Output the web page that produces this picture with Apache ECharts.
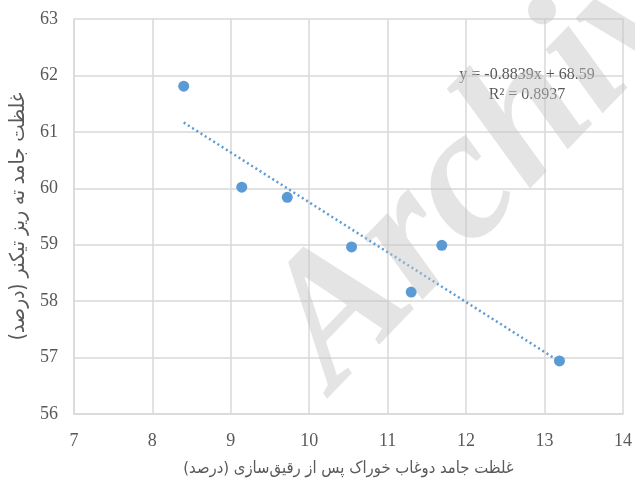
<!DOCTYPE html>
<html>
<head>
<meta charset="utf-8">
<script src="https://cdn.jsdelivr.net/npm/echarts@6/dist/echarts.min.js"></script>
<style>
  html, body { margin: 0; padding: 0; background: #ffffff; }
  #chart { width: 635px; height: 482px; }
</style>
</head>
<body>
<div id="chart"></div>
<script>
// Feed solids concentration after dilution (%) vs. thickener underflow solids (%)
const xValues = [8.40, 9.14, 9.72, 10.54, 11.30, 11.69, 13.19];
const yValues = [61.81, 60.02, 59.84, 58.96, 58.16, 58.99, 56.94];

// Linear trendline as reported on the chart
const trendSlope = -0.8839;
const trendIntercept = 68.59;
const rSquared = 0.8937;

const xAxisTicks = [7, 8, 9, 10, 11, 12, 13, 14];
const yAxisTicks = [56, 57, 58, 59, 60, 61, 62, 63];

const xAxisTitle = 'غلظت جامد دوغاب خوراک پس از رقیق‌سازی (درصد)';
const yAxisTitle = 'غلظت جامد ته ریز تیکنر (درصد)';

const points = xValues.map((x, i) => [x, yValues[i]]);
const xMinData = Math.min(...xValues);
const xMaxData = Math.max(...xValues);
const trendPoints = [xMinData, xMaxData].map(x => [x, trendSlope * x + trendIntercept]);

const labelColor = '#595959';
const gridColor = '#d9d9d9';
const markColor = '#5b9bd5';
const serif = '"Liberation Serif", "DejaVu Serif", serif';
const arabic = '"DejaVu Sans Condensed", "DejaVu Sans", sans-serif';

const chart = echarts.init(document.getElementById('chart'), null, { renderer: 'canvas' });

chart.setOption({
  animation: false,
  backgroundColor: '#ffffff',
  grid: { left: 70, right: 11, top: 19, bottom: 63, containLabel: false },
  xAxis: {
    type: 'value',
    min: xAxisTicks[0],
    max: xAxisTicks[xAxisTicks.length - 1],
    interval: 1,
    name: xAxisTitle,
    nameLocation: 'middle',
    nameGap: 46,
    nameTextStyle: { color: labelColor, fontFamily: arabic, fontSize: 16.5 },
    axisLine: { show: true, onZero: false, lineStyle: { color: gridColor, width: 1.5 } },
    axisTick: { show: false },
    axisLabel: { color: labelColor, fontFamily: serif, fontSize: 18, margin: 18 },
    splitLine: { show: true, lineStyle: { color: gridColor, width: 1.5 } }
  },
  yAxis: {
    type: 'value',
    min: yAxisTicks[0],
    max: yAxisTicks[yAxisTicks.length - 1],
    interval: 1,
    name: yAxisTitle,
    nameLocation: 'middle',
    nameRotate: 90,
    nameGap: 41,
    nameTextStyle: { color: labelColor, fontFamily: arabic, fontSize: 20.5 },
    axisLine: { show: true, onZero: false, lineStyle: { color: gridColor, width: 1.5 } },
    axisTick: { show: false },
    axisLabel: { color: labelColor, fontFamily: serif, fontSize: 18, margin: 16 },
    splitLine: { show: true, lineStyle: { color: gridColor, width: 1.5 } }
  },
  series: [
    {
      name: 'trend',
      type: 'line',
      data: trendPoints,
      symbol: 'none',
      z: 2,
      lineStyle: { color: markColor, width: 2.5, type: [2, 3] }
    },
    {
      name: 'data',
      type: 'scatter',
      data: points,
      symbol: 'circle',
      symbolSize: 11,
      z: 3,
      itemStyle: { color: markColor, opacity: 1 }
    }
  ],
  graphic: [
    {
      type: 'text',
      x: 527,
      y: 65,
      z: 10,
      style: {
        text: 'y = ' + trendSlope + 'x + ' + trendIntercept + '\nR² = ' + rSquared,
        font: '16px ' + serif,
        fill: labelColor,
        align: 'center',
        lineHeight: 20
      }
    },
    {
      type: 'text',
      x: 366,
      y: 423,
      rotation: 46 * Math.PI / 180,
      z: 20,
      silent: true,
      style: {
        text: 'Archive',
        font: 'italic bold 186px ' + serif,
        fill: 'rgba(195,195,195,0.45)',
        verticalAlign: 'bottom'
      }
    }
  ]
});
</script>
</body>
</html>
